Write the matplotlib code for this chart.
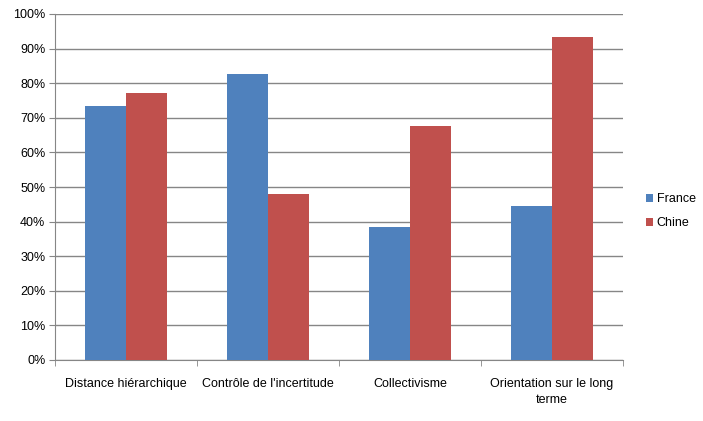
import numpy as np
import matplotlib.pyplot as plt
from matplotlib.ticker import PercentFormatter, FixedLocator

# data (percent)
categories = ["Distance hiérarchique", "Contrôle de l'incertitude",
              "Collectivisme", "Orientation sur le long\nterme"]
france = [73.3, 82.7, 38.4, 44.4]
chine = [77.3, 48.0, 67.5, 93.3]

blue = '#4F81BD'
red = '#C0504D'
grid_gray = '#868686'

plt.rcParams['font.family'] = ['Liberation Sans', 'DejaVu Sans']

fig = plt.figure(figsize=(7.03, 4.21), dpi=100)
ax = fig.add_axes([55 / 703, 61 / 421, 568 / 703, 346 / 421])

x = np.arange(len(categories))
w = 0.286  # excel gap width 150%
ax.bar(x - w / 2, france, width=w, color=blue, label='France', zorder=3)
ax.bar(x + w / 2, chine, width=w, color=red, label='Chine', zorder=3)

ax.set_xlim(-0.5, len(categories) - 0.5)
ax.set_ylim(0, 100)
ax.set_yticks(np.arange(0, 101, 10))
ax.yaxis.set_major_formatter(PercentFormatter(decimals=0))
ax.grid(axis='y', color=grid_gray, linewidth=1, zorder=0)

ax.set_xticks(x)
ax.set_xticklabels(categories, fontsize=9, linespacing=1.4, va='top')
ax.xaxis.set_minor_locator(FixedLocator(np.arange(-0.5, len(categories), 1)))
ax.tick_params(axis='x', which='major', length=0, pad=13)
ax.tick_params(axis='x', which='minor', length=4, color=grid_gray, direction='out')
ax.tick_params(axis='y', length=4, color=grid_gray, labelsize=9, pad=3)

for s in ['top', 'right']:
    ax.spines[s].set_visible(False)
for s in ['left', 'bottom']:
    ax.spines[s].set_color(grid_gray)

ax.legend(loc='center left', bbox_to_anchor=(1.02, 0.43), frameon=False,
          fontsize=9, handlelength=0.6, handleheight=0.6, handletextpad=0.3,
          labelspacing=0.95)

plt.savefig('out.png', dpi=100)
